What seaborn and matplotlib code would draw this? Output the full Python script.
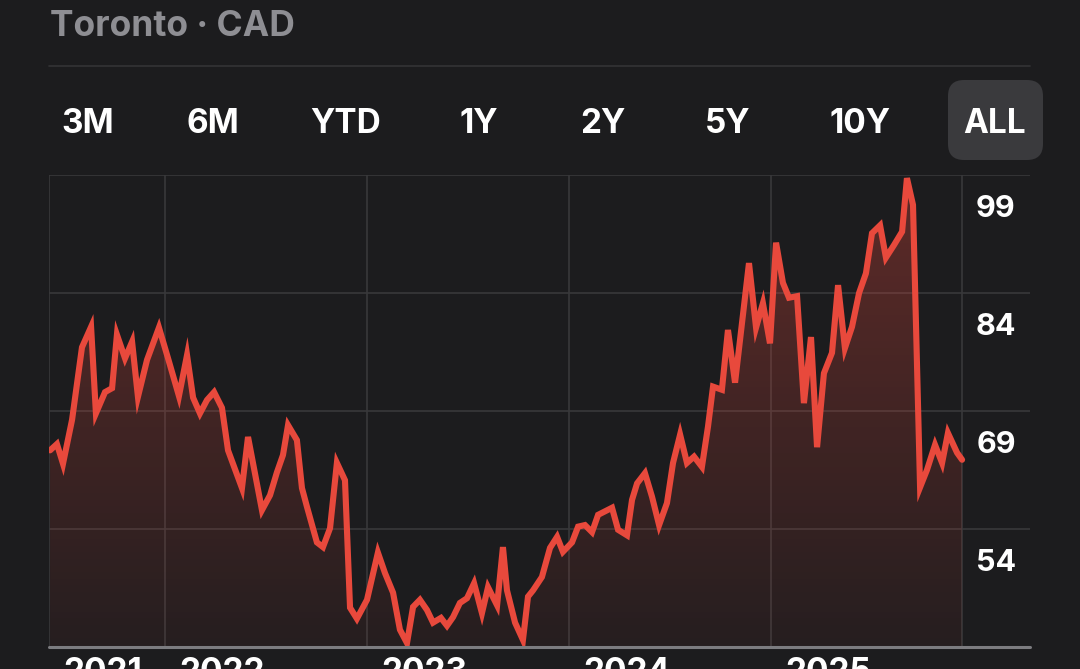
import numpy as np
import matplotlib.pyplot as plt
import matplotlib.transforms as mtransforms
from matplotlib.patches import FancyBboxPatch
import seaborn as sns

# ── Data (decimal year, price in CAD) ─────────────────────
years = [
    2021.431, 2021.465, 2021.495, 2021.540, 2021.589, 2021.634, 2021.658, 2021.703,
    2021.738, 2021.762, 2021.802, 2021.837, 2021.866, 2021.911, 2021.970, 2022.015,
    2022.069, 2022.109, 2022.139, 2022.173, 2022.208, 2022.243, 2022.282, 2022.312,
    2022.381, 2022.411, 2022.480, 2022.520, 2022.554, 2022.584, 2022.609, 2022.653,
    2022.678, 2022.703, 2022.752, 2022.782, 2022.817, 2022.851, 2022.891, 2022.916,
    2022.950, 2023.000, 2023.054, 2023.089, 2023.129, 2023.163, 2023.198, 2023.228,
    2023.262, 2023.297, 2023.327, 2023.366, 2023.396, 2023.426, 2023.460, 2023.495,
    2023.530, 2023.569, 2023.599, 2023.644, 2023.673, 2023.693, 2023.733, 2023.772,
    2023.797, 2023.822, 2023.866, 2023.906, 2023.941, 2023.970, 2024.015, 2024.045,
    2024.079, 2024.114, 2024.144, 2024.213, 2024.243, 2024.287, 2024.312, 2024.337,
    2024.376, 2024.411, 2024.446, 2024.485, 2024.515, 2024.550, 2024.584, 2024.619,
    2024.658, 2024.688, 2024.713, 2024.757, 2024.787, 2024.822, 2024.891, 2024.926,
    2024.960, 2024.995, 2025.025, 2025.059, 2025.089, 2025.129, 2025.163, 2025.198,
    2025.228, 2025.262, 2025.302, 2025.332, 2025.366, 2025.401, 2025.436, 2025.470,
    2025.500, 2025.540, 2025.569, 2025.609, 2025.649, 2025.673, 2025.703, 2025.738,
    2025.772, 2025.812, 2025.847, 2025.876, 2025.921, 2025.946,
]
price = [
    64.0, 64.8, 62.3, 67.9, 77.1, 79.7, 68.7, 71.4,
    71.9, 78.7, 75.7, 77.8, 70.8, 75.5, 79.6, 75.7,
    70.9, 76.1, 70.7, 68.7, 70.4, 71.4, 69.4, 64.0,
    59.2, 65.7, 56.4, 58.3, 61.2, 63.4, 67.2, 65.3,
    59.2, 56.8, 52.3, 51.7, 54.1, 62.4, 60.2, 44.0,
    42.6, 45.0, 51.0, 48.4, 45.9, 41.2, 39.5, 44.1,
    45.0, 43.7, 42.1, 42.7, 41.7, 42.8, 44.6, 45.2,
    47.1, 43.3, 46.6, 44.3, 51.7, 46.2, 42.1, 39.9,
    45.4, 46.2, 47.9, 51.6, 53.0, 51.1, 52.3, 54.3,
    54.5, 53.6, 55.8, 56.7, 53.9, 53.2, 57.7, 59.8,
    61.1, 58.1, 54.5, 57.3, 62.4, 66.0, 62.4, 63.2,
    61.9, 67.0, 72.1, 71.7, 79.3, 72.6, 87.8, 79.6,
    82.7, 77.6, 90.4, 85.3, 83.4, 83.6, 70.0, 78.4,
    64.4, 73.8, 76.4, 85.0, 77.0, 79.7, 84.0, 86.5,
    91.6, 92.6, 88.5, 90.1, 91.8, 98.6, 95.2, 59.3,
    61.5, 64.7, 62.4, 66.2, 63.7, 62.8,
]

year_ticks  = [2022, 2023, 2024, 2025]
year_labels = ["2021", "2022", "2023", "2024", "2025"]
price_ticks = [99, 84, 69, 54]
y_min, y_max = 39, 99
x_min, x_max = 2021.4257, 2026.2822

tabs = ["3M", "6M", "YTD", "1Y", "2Y", "5Y", "10Y", "ALL"]
tab_x_px = [88, 213, 346, 479, 603, 728, 860, 995]

# ── Style ─────────────────────────────────────────────────
BG     = "#1c1c1e"
GRID   = "#38383a"
AXIS   = "#7c7c80"
RED    = "#e8493c"
MUTED  = "#8e8e93"
HILITE = "#3a3a3d"

sns.set_theme(style="dark", rc={
    "figure.facecolor": BG, "axes.facecolor": BG, "savefig.facecolor": BG,
})
plt.rcParams["font.family"] = ["Inter", "DejaVu Sans"]

W, H = 1080, 669
fig = plt.figure(figsize=(W / 100, H / 100), dpi=100)

# ── Header ────────────────────────────────────────────────
fig.text(50 / W, 1 - 36 / H, "Toronto · CAD", color=MUTED, fontsize=25.5,
         fontweight="bold", ha="left", va="baseline")
fig.add_artist(plt.Line2D([49 / W, 1030 / W], [1 - 66 / H] * 2,
                          color="#333335", lw=1.2, transform=fig.transFigure))

# range selector
fig.add_artist(FancyBboxPatch((9.48, (H - 160) / 100), 0.95, 0.80,
                              boxstyle="round,pad=0,rounding_size=0.16",
                              transform=fig.dpi_scale_trans,
                              facecolor=HILITE, edgecolor="none"))
for lab, px in zip(tabs, tab_x_px):
    fig.text(px / W, 1 - 133 / H, lab, color="white", fontsize=24,
             fontweight="bold", ha="center", va="baseline")

# ── Chart ─────────────────────────────────────────────────
ax = fig.add_axes([49 / W, 22 / H, 981 / W, 472 / H])
ax.set_facecolor(BG)

sns.lineplot(x=years, y=price, ax=ax, color=RED, lw=4.4,
             solid_joinstyle="miter", zorder=4)

# gradient fill under the line
poly = ax.fill_between(years, price, y_min, color="none", lw=0)
alpha = np.linspace(0.05, 0.33, 256)
grad = np.zeros((256, 1, 4))
grad[:, 0, :3] = (0.91, 0.29, 0.24)
grad[:, 0, 3] = alpha
im = ax.imshow(grad, origin="lower", aspect="auto", zorder=2,
               extent=[years[0], years[-1], y_min, y_max])
im.set_clip_path(poly.get_paths()[0], transform=ax.transData)

ax.set_xlim(x_min, x_max)
ax.set_ylim(y_min, y_max)
ax.set_xticks([])
ax.set_yticks([])
ax.grid(False)
for s in ax.spines.values():
    s.set_visible(False)

for v in price_ticks:
    ax.axhline(v, color=GRID, lw=1.2, zorder=1)
ax.axhline(y_min, color=AXIS, lw=2.2, zorder=5, clip_on=False)
for x in [x_min] + year_ticks + [years[-1]]:
    ax.axvline(x, color=GRID, lw=1.2, zorder=1)

# price labels sit just below their gridlines
ytr = mtransforms.blended_transform_factory(ax.transAxes, ax.transData) + \
    mtransforms.ScaledTranslation(0, -34 / 100, fig.dpi_scale_trans)
for v in price_ticks:
    ax.text(0.9653, v, str(v), transform=ytr, color="white", fontsize=22,
            fontweight="bold", ha="center", va="center")

# year labels (cut off by the bottom edge, as in the screenshot)
xtr = mtransforms.blended_transform_factory(ax.transData, ax.transAxes) + \
    mtransforms.ScaledTranslation(14 / 100, -10 / 100, fig.dpi_scale_trans)
for x, lab in zip([x_min] + year_ticks, year_labels):
    ax.text(x, 0, lab, transform=xtr, color="white", fontsize=24,
            fontweight="bold", ha="left", va="top", clip_on=False)

fig.savefig("out.png", dpi=100, facecolor=BG)
